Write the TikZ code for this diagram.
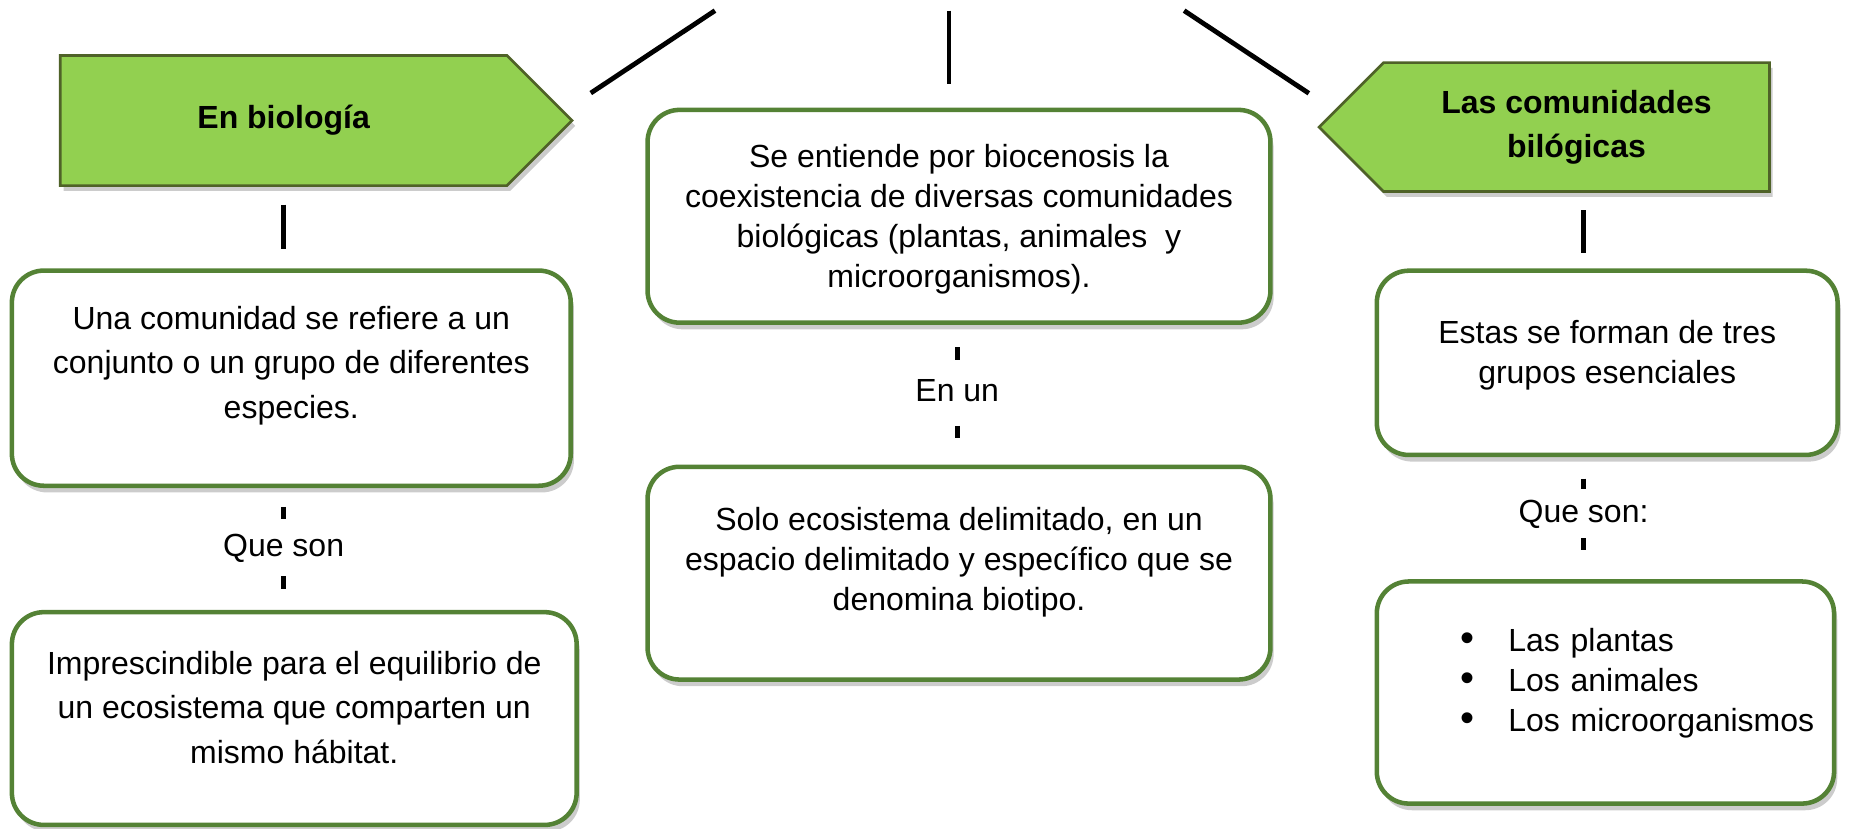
\documentclass[tikz,border=0pt]{standalone}
\usepackage{fontspec}
\setmainfont{Liberation Sans}
\usepackage{tikz}
\usetikzlibrary{shapes.symbols,shadows}
\definecolor{verdeflecha}{RGB}{146,208,80}
\definecolor{verdeborde}{RGB}{79,98,40}
\definecolor{verdecaja}{RGB}{84,130,53}
\tikzstyle{linea} = [line width=1.8pt, color=black]
\tikzstyle{flecha} = [shape=signal, signal pointer angle=90, draw=verdeborde, fill=verdeflecha, line width=1pt, align=center, font=\bfseries\fontsize{12}{16.6}\selectfont, drop shadow={shadow xshift=1.2pt, shadow yshift=-2pt, opacity=0.4}]
\tikzstyle{caja} = [rectangle, rounded corners=12pt, draw=verdecaja, line width=1.7pt, fill=white, drop shadow={shadow xshift=1.2pt, shadow yshift=-2.5pt, opacity=0.4}]
\tikzstyle{texto} = [align=center, inner sep=0pt, font=\fontsize{12}{15}\selectfont]
\tikzstyle{enlace} = [inner sep=0pt, text height=9pt, text depth=2.5pt, font=\fontsize{12}{15}\selectfont]
\newcommand{\vineta}{\makebox[18pt][l]{\fontsize{15}{15}\selectfont\textbullet}}

\begin{document}
\begin{tikzpicture}[x=0.4432pt, y=-0.4432pt]
\useasboundingbox (0,0) rectangle (1568,701);

% Flechas
\node (biologia) [flecha, signal to=east, minimum width=191.9pt, minimum height=48.8pt] at (240,102) {En biología};
\node (comunidades) [flecha, signal to=west, minimum width=168.9pt, minimum height=48.3pt] at (1334,107.5) {Las comunidades\\bilógicas};

% Cajas
\node (comunidad) [caja, minimum width=209.6pt, minimum height=80.7pt, label={[texto, yshift=4.7pt, font=\fontsize{12}{16.6}\selectfont]center:Una comunidad se refiere a un\\conjunto o un grupo de diferentes\\especies.}] at (246.5,320) {};
\node (habitat) [caja, minimum width=211.8pt, minimum height=79.8pt, label={[texto, yshift=4.2pt, font=\fontsize{12}{16.6}\selectfont]center:Imprescindible para el equilibrio de\\un ecosistema que comparten un\\mismo hábitat.}] at (249,608) {};
\node (biocenosis) [caja, minimum width=233.6pt, minimum height=79.8pt, label={[texto, yshift=-1pt]center:Se entiende por biocenosis la\\coexistencia de diversas comunidades\\biológicas (plantas, animales~ y\\microorganismos).}] at (811.5,183) {};
\node (biotipo) [caja, minimum width=233.6pt, minimum height=79.8pt, label={[texto, yshift=4.2pt]center:Solo ecosistema delimitado, en un\\espacio delimitado y específico que se\\denomina biotipo.}] at (811.5,485) {};
\node (estas) [caja, minimum width=172.8pt, minimum height=69.1pt, label={[texto, yshift=2.7pt]center:Estas se forman de tres\\grupos esenciales}] at (1360,307) {};
\node (grupos) [caja, minimum width=171.5pt, minimum height=83.3pt, label={[texto, align=left, text width=150pt, xshift=20.6pt, yshift=3.5pt]center:\vineta Las plantas\\\vineta Los animales\\\vineta Los microorganismos}] at (1358.5,586) {};

% Enlaces
\node (queson) [enlace] at (240,463.5) {Que son};
\node (enun) [enlace] at (810,332.5) {En un};
\node (quesonD) [enlace] at (1340,434.5) {Que son:};

% Lineas superiores
\coordinate (raizI) at (605,9);
\coordinate (raizC) at (803,9);
\coordinate (raizD) at (1002,9);
\draw[linea, shorten >=12pt] (raizI) -- (biologia.2);
\draw[linea, shorten >=8.9pt] (raizC) -- (raizC |- biocenosis.north);
\draw[linea, shorten >=11.4pt] (raizD) -- (comunidades.176);

% Lineas verticales
\draw[linea, shorten <=6.6pt, shorten >=7.1pt] (biologia.south -| queson) -- (comunidad.north -| queson);
\draw[linea, shorten <=6.6pt, shorten >=5.8pt] (comunidades.south -| quesonD) -- (estas.north -| quesonD);
\draw[linea, shorten <=7.1pt, shorten >=4.7pt] (comunidad.south -| queson) -- (queson.north);
\draw[linea, shorten <=4.7pt, shorten >=8pt] (queson.south) -- (habitat.north -| queson);
\draw[linea, shorten <=8.4pt, shorten >=6.4pt] (biocenosis.south -| enun) -- (enun.north);
\draw[linea, shorten <=6.4pt, shorten >=9.8pt] (enun.south) -- (biotipo.north -| enun);
\draw[linea, shorten <=8pt, shorten >=3.3pt] (estas.south -| quesonD) -- (quesonD.north);
\draw[linea, shorten <=3.3pt, shorten >=11.1pt] (quesonD.south) -- (grupos.north -| quesonD);
\end{tikzpicture}
\end{document}
